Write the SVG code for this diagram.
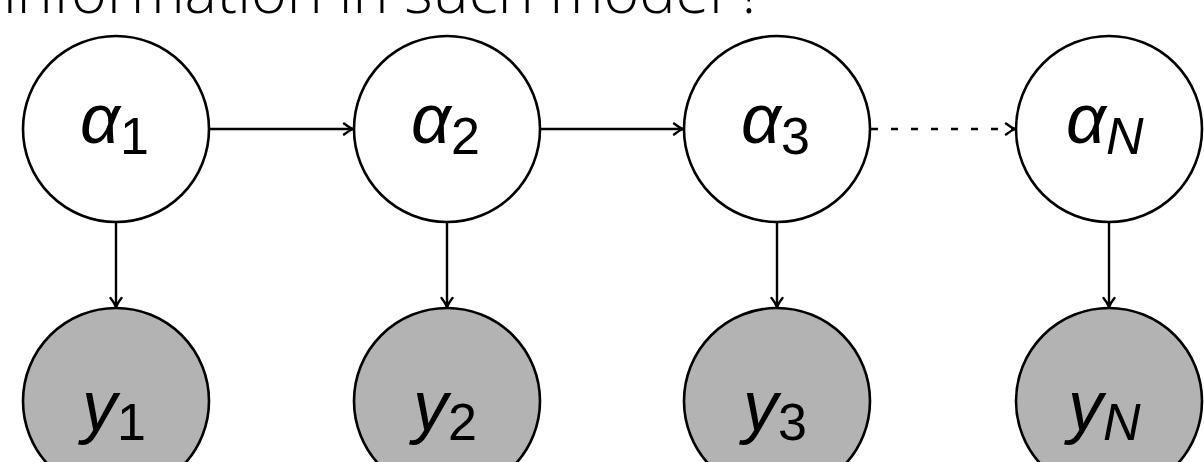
<svg xmlns="http://www.w3.org/2000/svg" width="1204" height="462" viewBox="0 0 1204 462">
<style>
.title{font-family:"Open Sans","Liberation Sans",sans-serif;font-weight:300;font-size:61px;fill:#000}
.node{stroke:#000;stroke-width:2.6}
.hid{fill:#fff}
.obs{fill:#b3b3b3}
.lab{font-family:"Liberation Sans","DejaVu Sans",sans-serif;font-style:italic;font-size:70px;fill:#000}
.sub{font-style:normal;font-size:52px}
.subi{font-style:italic;font-size:52px}
.edge{stroke:#000;stroke-width:2.4;fill:none;marker-end:url(#arr)}
.dash{stroke-dasharray:7 13}
</style>
<defs>
<marker id="arr" markerWidth="16" markerHeight="16" refX="12" refY="8" orient="auto" markerUnits="userSpaceOnUse">
<path d="M3,2.5 Q8,6.5 12,8 Q8,9.5 3,13.5" fill="none" stroke="#000" stroke-width="2.4" stroke-linecap="round"/>
</marker>
</defs>
<rect width="1204" height="462" fill="#fff"/>
<text class="title" x="3" y="13">information in such model ?</text>
<g id="connectors">
<line class="edge" x1="209" y1="129" x2="353" y2="129"/>
<line class="edge" x1="540" y1="129" x2="683" y2="129"/>
<line class="edge dash" x1="871" y1="129" x2="1015" y2="129"/>
<line class="edge" x1="116" y1="222" x2="116" y2="307"/>
<line class="edge" x1="447" y1="222" x2="447" y2="307"/>
<line class="edge" x1="777" y1="222" x2="777" y2="307"/>
<line class="edge" x1="1109" y1="222" x2="1109" y2="307"/>
</g>
<g id="alpha1"><circle class="node hid" cx="116" cy="129" r="93"/><text class="lab" x="80" y="143">α<tspan class="sub" dy="11">1</tspan></text></g>
<g id="alpha2"><circle class="node hid" cx="447" cy="129" r="93"/><text class="lab" x="411" y="143">α<tspan class="sub" dy="11">2</tspan></text></g>
<g id="alpha3"><circle class="node hid" cx="777" cy="129" r="93"/><text class="lab" x="741" y="143">α<tspan class="sub" dy="11">3</tspan></text></g>
<g id="alphaN"><circle class="node hid" cx="1109" cy="129" r="93"/><text class="lab" x="1066" y="143">α<tspan class="subi" dy="11">N</tspan></text></g>
<g id="y1"><circle class="node obs" cx="116" cy="401" r="93"/><text class="lab" x="82" y="430">y<tspan class="sub" dy="10">1</tspan></text></g>
<g id="y2"><circle class="node obs" cx="447" cy="401" r="93"/><text class="lab" x="413" y="430">y<tspan class="sub" dy="10">2</tspan></text></g>
<g id="y3"><circle class="node obs" cx="777" cy="401" r="93"/><text class="lab" x="743" y="430">y<tspan class="sub" dy="10">3</tspan></text></g>
<g id="yN"><circle class="node obs" cx="1109" cy="401" r="93"/><text class="lab" x="1068" y="430">y<tspan class="subi" dy="10">N</tspan></text></g>
</svg>
